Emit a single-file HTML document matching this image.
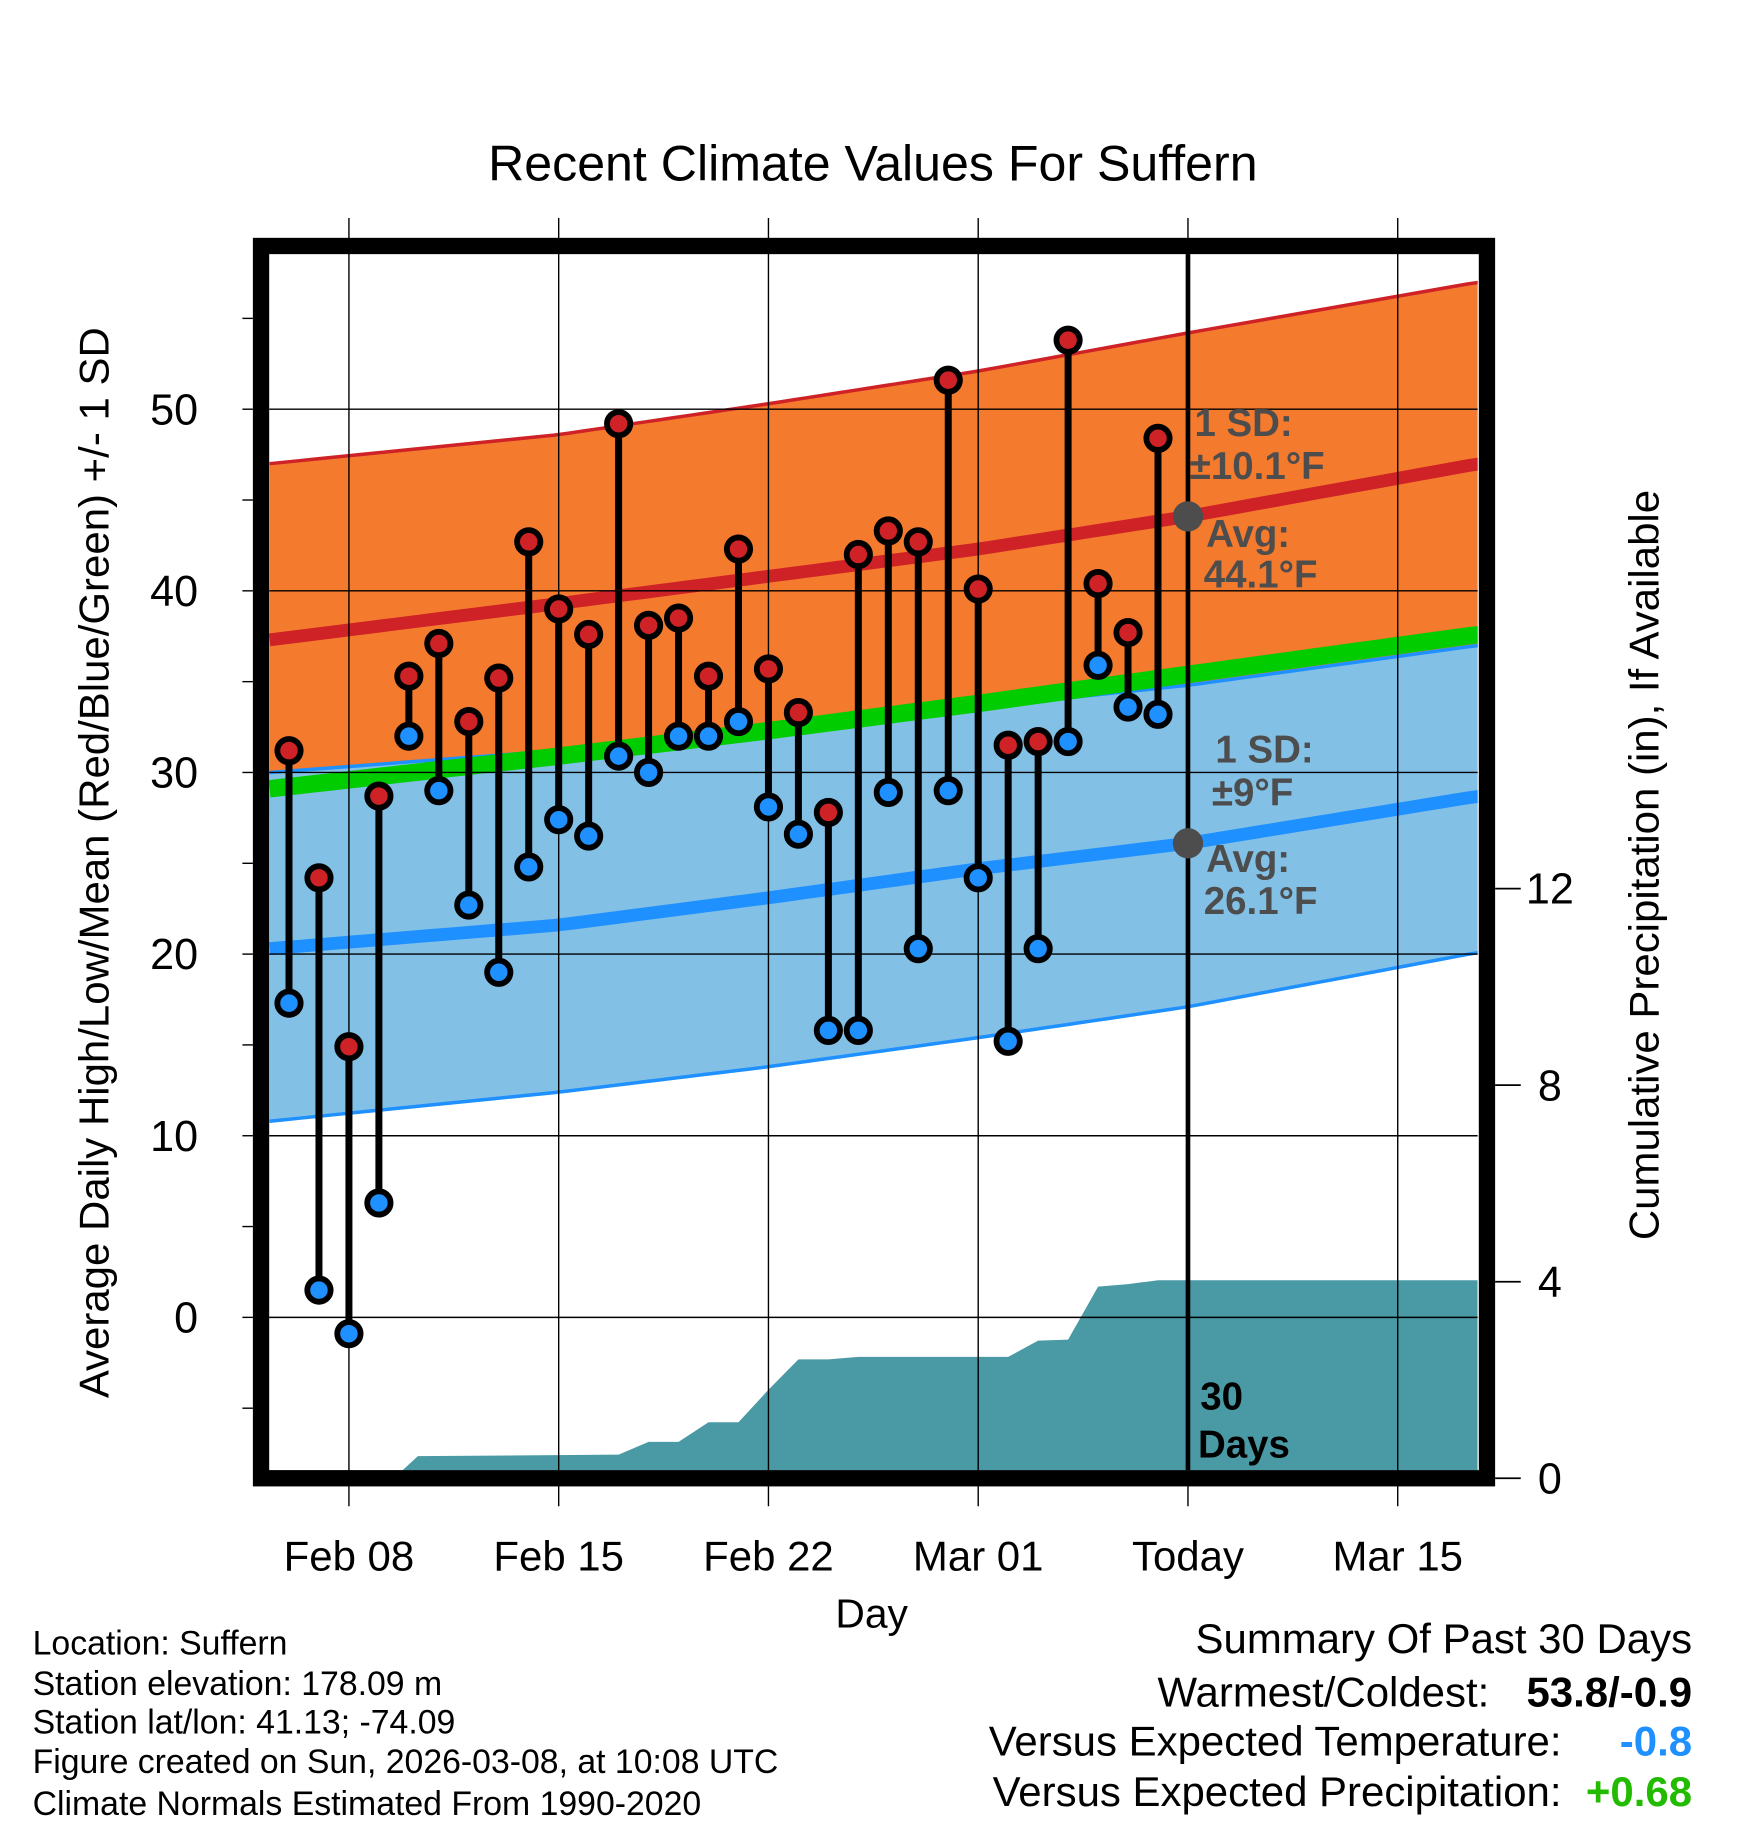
<!DOCTYPE html>
<html><head><meta charset="utf-8"><style>
html,body{margin:0;padding:0;background:#fff}
svg{display:block}
text{font-family:"Liberation Sans",Arial,sans-serif}
</style></head><body>
<svg id="chart" width="1748" height="1828" viewBox="0 0 1500 1568" preserveAspectRatio="none" xmlns="http://www.w3.org/2000/svg">
<defs><clipPath id="pc"><rect x="231" y="218" width="1037" height="1043"/></clipPath></defs>
<g id="bands" clip-path="url(#pc)"></g>
<g id="precip" clip-path="url(#pc)"></g>
<g id="grid"></g>
<g id="marks"></g>
<g id="annot"></g>
<rect x="224" y="211" width="1052" height="1057" fill="none" stroke="#000" stroke-width="14"/>
<g id="axes"></g>
<text x="749" y="155" font-size="43" text-anchor="middle">Recent Climate Values For Suffern</text>
<text x="748" y="1396" font-size="35" text-anchor="middle">Day</text>
<text transform="translate(93,740) rotate(-90)" font-size="36" text-anchor="middle">Average Daily High/Low/Mean (Red/Blue/Green) +/- 1 SD</text>
<text transform="translate(1423,742) rotate(-90)" font-size="36" text-anchor="middle">Cumulative Precipitation (in), If Available</text>
<g font-size="29">
<text x="28" y="1419">Location: Suffern</text>
<text x="28" y="1454">Station elevation: 178.09 m</text>
<text x="28" y="1487">Station lat/lon: 41.13; -74.09</text>
<text x="28" y="1521">Figure created on Sun, 2026-03-08, at 10:08 UTC</text>
<text x="28" y="1557">Climate Normals Estimated From 1990-2020</text>
</g>
<g font-size="36">
<text x="1452" y="1418" text-anchor="end">Summary Of Past 30 Days</text>
<text x="1278" y="1464" text-anchor="end">Warmest/Coldest:</text>
<text x="1452" y="1464" text-anchor="end" font-weight="bold">53.8/-0.9</text>
<text x="1340" y="1506" text-anchor="end">Versus Expected Temperature:</text>
<text x="1452" y="1506" text-anchor="end" font-weight="bold" fill="#1e90ff">-0.8</text>
<text x="1340" y="1549" text-anchor="end">Versus Expected Precipitation:</text>
<text x="1452" y="1549" text-anchor="end" font-weight="bold" fill="#22bb00">+0.68</text>
</g>
</svg>
<script>
// day offsets relative to Feb 06 (day 0)
const highs=[31.2,24.2,14.9,28.7,35.3,37.1,32.8,35.2,42.7,39.0,37.6,49.2,38.1,38.5,35.3,42.3,35.7,33.3,27.8,42.0,43.3,42.7,51.6,40.1,31.5,31.7,53.8,40.4,37.7,48.4];
const lows=[17.3,1.5,-0.9,6.3,32.0,29.0,22.7,19.0,24.8,27.4,26.5,30.9,30.0,32.0,32.0,32.8,28.1,26.6,15.8,15.8,28.9,20.3,29.0,24.2,15.2,20.3,31.7,35.9,33.6,33.2];
const normDays=[-0.65,9,16,23,30,39.7];
const avgHigh=[37.3,39.3,40.8,42.3,44.1,47.0];
const hiUpper=[47.0,48.6,50.3,52.1,54.2,57.0];
const meanT=[29.1,30.9,32.3,33.8,35.4,37.6];
const loUpper=[30.0,31.2,32.3,33.6,34.8,37.0];
const avgLow=[20.3,21.6,23.1,24.7,26.1,28.7];
const loLower=[10.8,12.4,13.8,15.4,17.1,20.1];
const precipDays=[3.5,4.3,11,12,13,14,15,16,17,18,19,24,25,26,27,28,29,39.7];
const precipVals=[0,0.45,0.48,0.74,0.74,1.14,1.14,1.8,2.42,2.42,2.47,2.47,2.8,2.82,3.9,3.95,4.03,4.03];
const xTicks=["Feb 08","Feb 15","Feb 22","Mar 01","Today","Mar 15"];
const xTickDays=[2,9,16,23,30,37];
const yTicks=[0,10,20,30,40,50];
const y2Ticks=[0,4,8,12];

const NS="http://www.w3.org/2000/svg";
const X=d=>248+d*25.714;
const Y=v=>1130-v*15.58;
const Y2=v=>1268-v*42.15;
const L=231,R=1268,T=218,B=1261;
function el(tag,attrs,parent){const e=document.createElementNS(NS,tag);for(const k in attrs)e.setAttribute(k,attrs[k]);parent.appendChild(e);return e;}
function interp(arr,d){for(let i=0;i<normDays.length-1;i++){if(d<=normDays[i+1]){const t=(d-normDays[i])/(normDays[i+1]-normDays[i]);return arr[i]+t*(arr[i+1]-arr[i]);}}return arr[arr.length-1];}
function curve(arr){const pts=[];const d0=normDays[0],d1=normDays[normDays.length-1];for(let d=d0;d<d1;d+=0.5){pts.push([X(d),Y(interp(arr,d))]);}pts.push([X(d1)+2,Y(arr[arr.length-1])]);return pts;}
function band(a,b,fill,name){const p1=curve(a),p2=curve(b).reverse();const e=el('polygon',{points:p1.concat(p2).map(p=>p.join(',')).join(' '),fill:fill},document.getElementById('bands'));

}
function line(arr,stroke,w,name){const e=el('polyline',{points:curve(arr).map(p=>p.join(',')).join(' '),fill:'none',stroke:stroke,'stroke-width':w},document.getElementById('bands'));

}
const hiLower=avgHigh.map((v,i)=>2*v-hiUpper[i]);
band(hiUpper,hiLower,'#f47a2e','high-sd-band');
line(hiUpper,'#cf2227',3,'high-upper-line');
line(hiLower,'#cf2227',3,'high-lower-line');
band(loUpper,loLower,'#82c0e6','low-sd-band');
line(loUpper,'#1e90ff',3,'low-upper-line');
line(loLower,'#1e90ff',3,'low-lower-line');
line(meanT,'#00cc00',15,'mean-line');
line(avgHigh,'#cf2227',11,'avg-high-line');
line(avgLow,'#1e90ff',11,'avg-low-line');

// precip
{const pts=[[X(precipDays[0]),Y2(0)]];for(let i=0;i<precipDays.length;i++)pts.push([Math.min(R,X(precipDays[i])),Y2(precipVals[i])]);pts.push([R,Y2(0)]);
const e=el('polygon',{points:pts.map(p=>p.join(',')).join(' '),fill:'#4a9aa5'},document.getElementById('precip'));

}

// grid
const g=document.getElementById('grid');
yTicks.forEach(v=>{const e=el('line',{x1:L,x2:R,y1:Y(v),y2:Y(v),stroke:'#000','stroke-width':1.2},g);

});
xTickDays.forEach(d=>{const e=el('line',{x1:X(d),x2:X(d),y1:187,y2:1292,stroke:'#000','stroke-width':1.2},g);

});
{const e=el('line',{x1:X(30),x2:X(30),y1:T,y2:B,stroke:'#000','stroke-width':4},g);

}

// marks
const m=document.getElementById('marks');
highs.forEach((h,i)=>{const x=X(i);
const s=el('line',{x1:x,x2:x,y1:Y(h),y2:Y(lows[i]),stroke:'#000','stroke-width':6},m);


const c1=el('circle',{cx:x,cy:Y(h),r:10,fill:'#cf2227',stroke:'#000','stroke-width':5},m);


const c2=el('circle',{cx:x,cy:Y(lows[i]),r:10,fill:'#1e90ff',stroke:'#000','stroke-width':5},m);

});

// annotations
const a=document.getElementById('annot');
[[X(30),Y(interp(avgHigh,30))],[X(30),Y(interp(avgLow,30))]].forEach(p=>{const e=el('circle',{cx:p[0],cy:p[1],r:13,fill:'#4d4d4d'},a);

});
[["1 SD:",1025,374],["±10.1°F",1021,411],["Avg:",1035,469],["44.1°F",1033,504],["1 SD:",1043,654],["±9°F",1040,691],["Avg:",1035,748],["26.1°F",1033,784]].forEach(t=>{const e=el('text',{x:t[1],y:t[2],'font-size':33,'font-weight':'bold',fill:'#4d4d4d'},a);e.textContent=t[0];

});
[["30",1030,1209],["Days",1028,1250]].forEach(t=>{const e=el('text',{x:t[1],y:t[2],'font-size':33,'font-weight':'bold',fill:'#000'},a);e.textContent=t[0];

});

// axes
const ax=document.getElementById('axes');
yTicks.forEach(v=>{const t=el('text',{x:170,y:Y(v)+13,'font-size':37,'text-anchor':'end'},ax);t.textContent=v;

});
for(let v=-5;v<=55;v+=5){if(Y(v)>B||Y(v)<T)continue;const l=el('line',{x1:208,x2:217,y1:Y(v),y2:Y(v),stroke:'#000','stroke-width':1.2},ax);

}
y2Ticks.forEach(v=>{const l=el('line',{x1:1283,x2:1305,y1:Y2(v),y2:Y2(v),stroke:'#000','stroke-width':1.5},ax);


const t=el('text',{x:1330,y:Y2(v)+13,'font-size':37,'text-anchor':'middle'},ax);t.textContent=v;

});
xTicks.forEach((s,i)=>{const t=el('text',{x:X(xTickDays[i]),y:1347,'font-size':36,'text-anchor':'middle'},ax);t.textContent=s;

});
</script>
</body></html>
